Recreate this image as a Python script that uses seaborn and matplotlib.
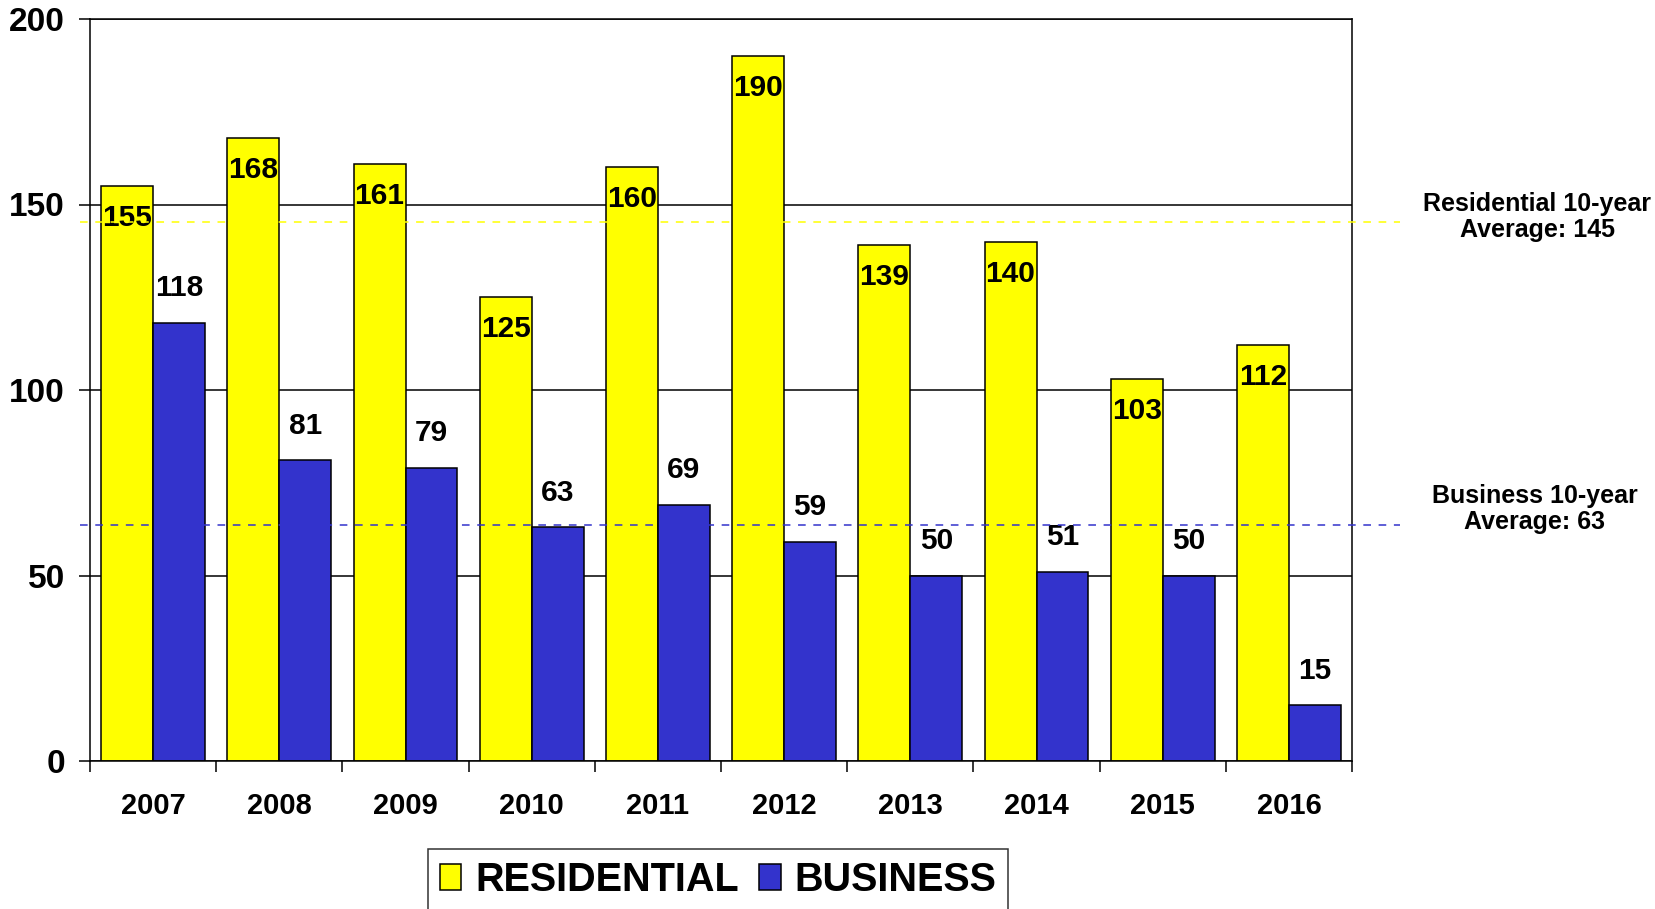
import numpy as np
import pandas as pd
import matplotlib
matplotlib.use("Agg")
import matplotlib.pyplot as plt
import matplotlib.transforms as mtransforms
from matplotlib.patches import Patch
import seaborn as sns

years = ["2007", "2008", "2009", "2010", "2011", "2012", "2013", "2014", "2015", "2016"]
residential = [155, 168, 161, 125, 160, 190, 139, 140, 103, 112]
business = [118, 81, 79, 63, 69, 59, 50, 51, 50, 15]
series = ["RESIDENTIAL", "BUSINESS"]
colors = {"RESIDENTIAL": "#FFFF00", "BUSINESS": "#3333CC"}
avg_labels = ["Residential 10-year\nAverage: 145", "Business 10-year\nAverage: 63"]

df = pd.DataFrame({
    "year": years * 2,
    "count": residential + business,
    "series": [series[0]] * len(years) + [series[1]] * len(years),
})

sns.set_theme(style="white")
plt.rcParams["font.family"] = ["Liberation Sans", "DejaVu Sans"]
plt.rcParams["font.weight"] = "bold"
plt.rcParams["text.color"] = "black"
plt.rcParams["xtick.color"] = "black"
plt.rcParams["ytick.color"] = "black"

fig = plt.figure(figsize=(16.55, 9.09), dpi=100)
ax = fig.add_axes([90 / 1655, 1 - 761 / 909, (1352 - 90) / 1655, (761 - 19) / 909])

sns.barplot(data=df, x="year", y="count", hue="series", order=years,
            hue_order=series, palette=colors, width=0.824, gap=0,
            edgecolor="black", linewidth=1.1, saturation=1, legend=False, ax=ax)

ax.set_ylim(0, 200)
ax.set_xlim(-0.5, len(years) - 0.5)
ax.set_yticks([0, 50, 100, 150, 200])
ax.yaxis.grid(True, color="black", linewidth=1.1)
ax.set_axisbelow(True)
ax.set_xlabel("")
ax.set_ylabel("")

for s in ax.spines.values():
    s.set_color("black")
    s.set_linewidth(1.1)

ax.tick_params(axis="y", direction="out", length=8, width=1.1, color="black",
               labelsize=24, pad=10, left=True)
ax.tick_params(axis="x", which="major", length=0, labelsize=21, pad=22)
ax.set_xticks(np.arange(len(years) + 1) - 0.5, minor=True)
ax.tick_params(axis="x", which="minor", direction="out", length=8, width=1.1,
               color="black", bottom=True)
for lbl in ax.get_xticklabels() + ax.get_yticklabels():
    lbl.set_fontweight("bold")
    lbl.set_color("black")

# value labels: residential inside top, business above
for bar in ax.containers[0]:
    ax.annotate(f"{int(bar.get_height())}",
                (bar.get_x() + bar.get_width() / 2, bar.get_height()),
                xytext=(0, -23), textcoords="offset points", ha="center",
                va="center", fontsize=21.5, fontweight="bold", color="black")
for bar in ax.containers[1]:
    ax.annotate(f"{int(bar.get_height())}",
                (bar.get_x() + bar.get_width() / 2, bar.get_height()),
                xytext=(0, 25), textcoords="offset points", ha="center",
                va="center", fontsize=21.5, fontweight="bold", color="black")

# 10-year average lines extending past the plot
trans = mtransforms.blended_transform_factory(ax.transAxes, ax.transData)
for vals, col in [(residential, colors["RESIDENTIAL"]), (business, colors["BUSINESS"])]:
    m = np.mean(vals)
    ax.plot([-0.008, 1.038], [m, m], transform=trans, color=col, linewidth=1.1,
            dashes=(5, 5), clip_on=False, zorder=3)

fig.text(1537 / 1655, 1 - 217 / 909, avg_labels[0], ha="center", va="center",
         fontsize=18, fontweight="bold", linespacing=1.1, color="black")
fig.text(1535 / 1655, 1 - 509 / 909, avg_labels[1], ha="center", va="center",
         fontsize=18, fontweight="bold", linespacing=1.1, color="black")

handles = [Patch(facecolor=colors[s], edgecolor="black", linewidth=1.1, label=s)
           for s in series]
leg = fig.legend(handles=handles, loc="center", bbox_to_anchor=(718 / 1655, 1 - 880 / 909),
                 ncol=2, frameon=True, fancybox=False, edgecolor="black",
                 prop={"size": 28.5, "weight": "bold"}, handlelength=0.55,
                 handleheight=0.6, handletextpad=0.35, columnspacing=0.5,
                 borderpad=0.3, borderaxespad=0)
leg.get_frame().set_linewidth(1.1)
for t in leg.get_texts():
    t.set_color("black")

fig.savefig("out.png", dpi=100)
